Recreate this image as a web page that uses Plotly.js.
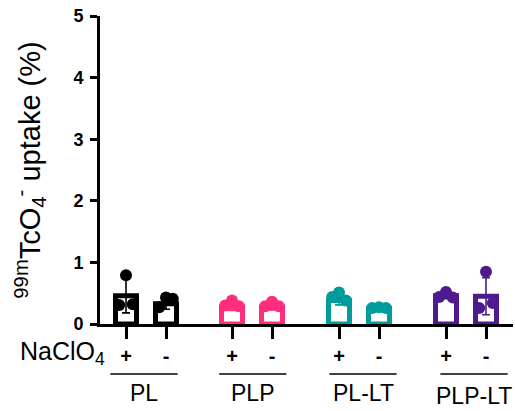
<!DOCTYPE html>
<html>
<head>
<meta charset="utf-8">
<script src="https://cdn.plot.ly/plotly-3.0.1.min.js"></script>
<style>html,body{margin:0;padding:0;background:#fff;}#chart{width:515px;height:411px;}</style>
</head>
<body>
<div id="chart"></div>
<script>
// ---- data ----
const groupNames = ['PL', 'PLP', 'PL-LT', 'PLP-LT'];
const treatLabels = ['+', '-'];
const barMeans = [0.46, 0.33, 0.27, 0.27, 0.38, 0.25, 0.46, 0.45];
const barSD    = [0.28, 0.09, 0.05, 0.04, 0.07, 0.01, 0.05, 0.30];
const pointsLeft  = [0.31, 0.27, 0.30, 0.29, 0.44, 0.26, 0.44, 0.26];
const pointsMid   = [0.79, 0.43, 0.38, 0.36, 0.51, 0.27, 0.52, 0.85];
const pointsRight = [0.32, 0.41, 0.29, 0.29, 0.38, 0.26, 0.43, 0.34];
const yTickVals = [0, 1, 2, 3, 4, 5];

// ---- layout / style constants ----
const groupColors = ['#000000', '#FF2D7D', '#009B9B', '#4E1A8E'];
const groupStart = [0, 2.65, 5.325, 8.0];
const jitter = [-0.17, 0, 0.17];
const FONT = '"Liberation Sans", Arial, sans-serif';

const xPos = [];
groupStart.forEach(g => { xPos.push(g, g + 1); });

const traces = [];
groupNames.forEach((name, gi) => {
  const idx = [gi * 2, gi * 2 + 1];
  traces.push({
    type: 'bar',
    x: idx.map(i => xPos[i]),
    y: idx.map(i => barMeans[i]),
    width: 0.525,
    marker: { color: '#ffffff', line: { color: groupColors[gi], width: 5 } },
    error_y: { type: 'data', array: idx.map(i => barSD[i]), color: groupColors[gi], thickness: 1.6, width: 4 },
    hoverinfo: 'skip',
    showlegend: false
  });
});
groupNames.forEach((name, gi) => {
  const idx = [gi * 2, gi * 2 + 1];
  const xs = [], ys = [];
  idx.forEach(i => {
    [pointsLeft, pointsMid, pointsRight].forEach((arr, k) => {
      xs.push(xPos[i] + jitter[k]);
      ys.push(arr[i]);
    });
  });
  traces.push({
    type: 'scatter', mode: 'markers', x: xs, y: ys,
    marker: { color: groupColors[gi], size: 12 },
    cliponaxis: false, hoverinfo: 'skip', showlegend: false
  });
});

const shapes = [];
const annotations = [];
groupNames.forEach((name, gi) => {
  const c = groupStart[gi] + 0.5 + [ -0.05, 0.02, 0.1, 0.2 ][gi];
  shapes.push({
    type: 'line', xref: 'x', yref: 'paper', ysizemode: 'pixel', yanchor: 0,
    x0: c - 0.84, x1: c + 0.84, y0: -50, y1: -50,
    line: { color: '#000', width: 1.5 }
  });
  annotations.push({
    xref: 'x', yref: 'paper', x: c, y: 0, yanchor: 'middle', yshift: gi === 3 ? -72 : -69,
    text: name, showarrow: false, font: { family: FONT, size: 23, color: '#000' }
  });
});
annotations.push({
  xref: 'x', yref: 'paper', x: -0.48, y: 0, xanchor: 'right', yanchor: 'middle', yshift: -29,
  text: 'NaClO<sub>4</sub>', showarrow: false, font: { family: FONT, size: 25, color: '#000' }
});

const layout = {
  width: 515, height: 411,
  margin: { l: 100, r: 2, t: 16, b: 87 },
  paper_bgcolor: '#fff', plot_bgcolor: '#fff',
  barmode: 'overlay',
  font: { family: FONT, color: '#000' },
  xaxis: {
    range: [-0.65, 9.675], showgrid: false, zeroline: false,
    showline: true, linecolor: '#000', linewidth: 3,
    ticks: 'outside', ticklen: 12, tickwidth: 3, tickcolor: '#000',
    tickvals: xPos, ticktext: xPos.map((x, i) => treatLabels[i % 2]),
    tickfont: { family: FONT, size: 20, color: '#000', weight: 'bold' }
  },
  yaxis: {
    range: [0, 5], showgrid: false, zeroline: false,
    showline: true, linecolor: '#000', linewidth: 3,
    ticks: 'outside', ticklen: 7, tickwidth: 3, tickcolor: '#000',
    tickvals: yTickVals, ticklabelstandoff: 3,
    tickfont: { family: FONT, size: 18, color: '#000', weight: 'bold' },
    title: { text: '<sup>99m</sup>TcO<sub>4</sub><sup>-</sup> uptake (%)', font: { family: FONT, size: 29, color: '#000' }, standoff: 25 }
  },
  shapes: shapes,
  annotations: annotations
};

Plotly.newPlot('chart', traces, layout, { staticPlot: true, displayModeBar: false });
</script>
</body>
</html>
